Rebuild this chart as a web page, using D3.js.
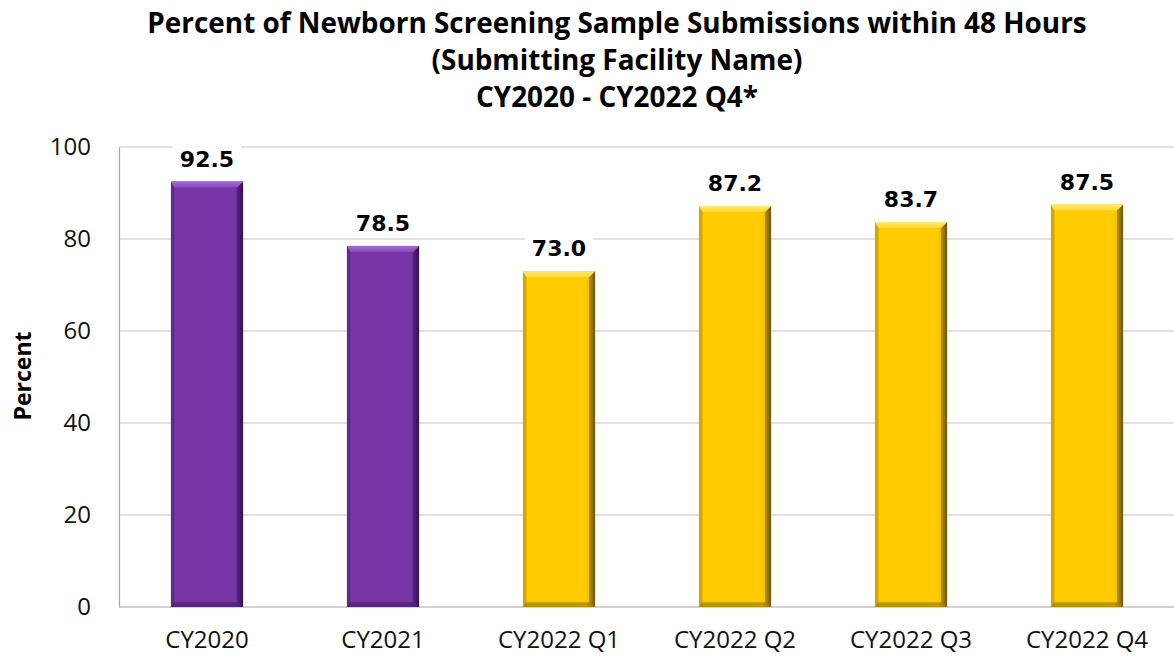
<!DOCTYPE html>
<html><head><meta charset="utf-8">
<script src="https://cdn.jsdelivr.net/npm/d3@7"></script>
<style>body{margin:0;background:#fff}svg{display:block}</style>
</head><body>
<svg id="c" width="1174" height="656"></svg>
<script>
const categories = ["CY2020","CY2021","CY2022 Q1","CY2022 Q2","CY2022 Q3","CY2022 Q4"];
const values = [92.5, 78.5, 73.0, 87.2, 83.7, 87.5];
const groups = ["year","year","quarter","quarter","quarter","quarter"];
const yTicks = [0,20,40,60,80,100];
const titleLines = ["Percent of Newborn Screening Sample Submissions within 48 Hours","(Submitting Facility Name)","CY2020 - CY2022 Q4*"];
const yLabel = "Percent";

const colors = {year:{base:"#7835a8",light:"#a56ad6",dark:"#35104f"}, quarter:{base:"#ffcc00",light:"#ffe97a",dark:"#6e5500"}};

const svg = d3.select("#c");
const m = {l:119, r:-1, t:147, b:49};
const W = 1174, H = 656;
const x = d3.scaleBand().domain(categories).range([m.l, W - m.r]).paddingInner(0.59).paddingOuter(0.295);
const y = d3.scaleLinear().domain([0,100]).range([H - m.b, m.t]);

const defs = svg.append("defs");
Object.entries(colors).forEach(([k,c])=>{
  const g = defs.append("linearGradient").attr("id","g-"+k).attr("x1","0").attr("x2","1").attr("y1","0").attr("y2","0");
  g.append("stop").attr("offset","0").attr("stop-color",c.base);
  g.append("stop").attr("offset","0.88").attr("stop-color",c.base);
  g.append("stop").attr("offset","1").attr("stop-color",d3.interpolateRgb(c.base,c.dark)(0.5));
  const t = defs.append("linearGradient").attr("id","t-"+k).attr("x1","0").attr("x2","0").attr("y1","0").attr("y2","1");
  t.append("stop").attr("offset","0").attr("stop-color",c.light);
  t.append("stop").attr("offset","1").attr("stop-color",d3.interpolateRgb(c.light,c.base)(0.6));
  const r = defs.append("linearGradient").attr("id","r-"+k).attr("x1","0").attr("x2","1").attr("y1","0").attr("y2","0");
  r.append("stop").attr("offset","0").attr("stop-color",d3.interpolateRgb(c.base,c.dark)(0.5));
  r.append("stop").attr("offset","1").attr("stop-color",c.dark);
});

// gridlines
svg.append("g").selectAll("line").data(yTicks.filter(d=>d>0)).join("line")
  .attr("x1",m.l).attr("x2",W).attr("y1",d=>y(d)).attr("y2",d=>y(d))
  .attr("stroke","#c8c8c8").attr("stroke-width",1.2);

// axes
const yAxis = svg.append("g").attr("transform",`translate(${m.l},0)`)
  .call(d3.axisLeft(y).tickValues(yTicks).tickSize(0).tickPadding(28));
yAxis.select(".domain").attr("stroke","#a6a6a6").attr("stroke-width",1.2);
yAxis.selectAll("text").attr("font-family","'Open Sans', sans-serif").attr("font-size",24).attr("fill","#111");

const xAxis = svg.append("g").attr("transform",`translate(0,${y(0)})`)
  .call(d3.axisBottom(x).tickSize(0).tickPadding(24));
xAxis.select(".domain").attr("stroke","#a6a6a6").attr("stroke-width",1.2).attr("d",`M${m.l},0H${W}`);
xAxis.selectAll("text").attr("font-family","'Open Sans', sans-serif").attr("font-size",24).attr("fill","#111");

// bars
const bw = x.bandwidth(), bv = 6;
const bars = svg.append("g").selectAll("g").data(categories.map((c,i)=>({c,v:values[i],g:groups[i]}))).join("g")
  .attr("transform",d=>`translate(${x(d.c)},${y(d.v)})`);
bars.append("rect").attr("width",bw).attr("height",d=>y(0)-y(d.v)).attr("fill",d=>`url(#g-${d.g})`);
// left bevel
bars.append("path").attr("d",d=>{const h=y(0)-y(d.v);return `M0,0V${h}H${bv*0.6}V${bv}Z`;})
  .attr("fill",d=>colors[d.g].dark).attr("opacity",0.3);
// bottom bevel
bars.append("path").attr("d",d=>{const h=y(0)-y(d.v);return `M0,${h}H${bw}L${bw-bv},${h-bv*0.8}H${bv*0.6}Z`;})
  .attr("fill",d=>colors[d.g].dark).attr("opacity",0.45);
// right bevel
bars.append("path").attr("d",d=>{const h=y(0)-y(d.v);return `M${bw},0V${h}L${bw-bv},${h-bv*0.8}V${bv}Z`;})
  .attr("fill",d=>`url(#r-${d.g})`);
// top bevel
bars.append("path").attr("d",`M0,0H${bw}L${bw-bv},${bv}H${bv*0.6}Z`).attr("fill",d=>`url(#t-${d.g})`);

// value labels
const lab = svg.append("g").selectAll("g").data(categories.map((c,i)=>({c,v:values[i]}))).join("g")
  .attr("transform",d=>`translate(${x(d.c)+bw/2},${y(d.v)-15})`);
lab.append("rect").attr("x",-34).attr("y",-22).attr("width",68).attr("height",28).attr("fill","#fff");
lab.append("text").attr("text-anchor","middle").attr("font-family","'DejaVu Sans', sans-serif")
  .attr("font-weight","bold").attr("font-size",22).attr("fill","#000").text(d=>d.v.toFixed(1));

// y label
svg.append("text").attr("transform","translate(31,376) rotate(-90)").attr("text-anchor","middle")
  .attr("font-family","'Open Sans', sans-serif").attr("font-weight","bold").attr("font-size",23).text(yLabel);

// title
const tg = svg.append("g");
titleLines.forEach((t,i)=>{
  tg.append("text").attr("x",617).attr("y",33+i*37).attr("text-anchor","middle")
    .attr("font-family","'Open Sans', sans-serif").attr("font-weight","bold").attr("font-size",22).attr("fill","#000").text(t);
});
// fit first line width to ~940px
const t0 = tg.select("text").node();
const w0 = t0.getComputedTextLength();
const fs = Math.max(18, Math.min(28, 22*940/w0));
tg.selectAll("text").attr("font-size",fs);
</script>
</body></html>
